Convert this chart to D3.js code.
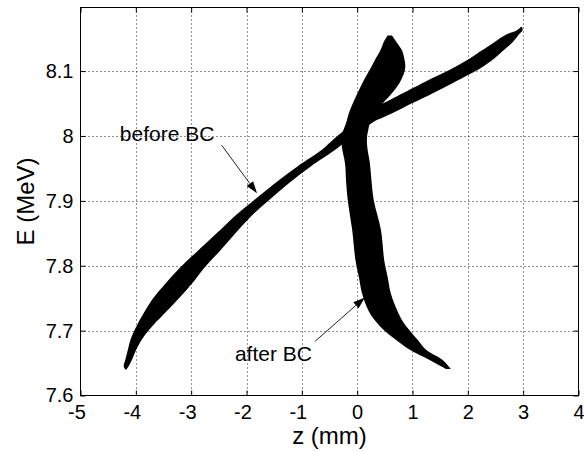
<!DOCTYPE html>
<html><head><meta charset="utf-8">
<script src="https://cdn.jsdelivr.net/npm/d3@7"></script>
<style>
body{margin:0;background:#fff;}
svg text{font-family:"Liberation Sans",Arial,Helvetica,sans-serif;fill:#000;}
</style>
</head><body>
<svg id="chart" width="584" height="451"></svg>
<script>
// ---------- data ----------
const xTicks = [-5, -4, -3, -2, -1, 0, 1, 2, 3, 4];
const xTickLabels = ["-5", "-4", "-3", "-2", "-1", "0", "1", "2", "3", "4"];
const yTicks = [7.6, 7.7, 7.8, 7.9, 8.0, 8.1];
const yTickLabels = ["7.6", "7.7", "7.8", "7.9", "8", "8.1"];

// "before BC" beam: energy and the z extent of the band at that energy
const beforeE      = [7.640, 7.645, 7.655, 7.67, 7.685, 7.696, 7.71, 7.722, 7.747, 7.773, 7.798, 7.824, 7.85, 7.876, 7.901, 7.927, 7.953, 7.978, 7.99, 8.0, 8.012, 8.022, 8.028, 8.036, 8.05, 8.0617, 8.0835, 8.1054, 8.12, 8.13, 8.145, 8.157, 8.163, 8.168];
const beforeZLeft  = [-4.19, -4.22, -4.19, -4.145, -4.10, -4.05, -3.97, -3.89, -3.71, -3.46, -3.19, -2.87, -2.54, -2.22, -1.865, -1.485, -1.08, -0.65, -0.49, -0.36, -0.195, -0.1, 0.005, 0.16, 0.46, 0.73, 1.23, 1.75, 2.05, 2.22, 2.485, 2.71, 2.89, 2.96];
const beforeZRight = [-4.17, -4.13, -4.07, -3.995, -3.90, -3.81, -3.67, -3.53, -3.25, -2.98, -2.75, -2.47, -2.20, -1.92, -1.595, -1.235, -0.84, -0.41, -0.23, -0.08, 0.135, 0.3, 0.455, 0.66, 0.98, 1.27, 1.77, 2.25, 2.49, 2.62, 2.815, 2.93, 2.99, 2.98];

// "after BC" beam
const afterE      = [7.641, 7.655, 7.67, 7.685, 7.70, 7.715, 7.73, 7.757, 7.783, 7.808, 7.855, 7.901, 7.93, 7.958, 7.985, 8.0, 8.009, 8.02, 8.035, 8.05, 8.065, 8.081, 8.095, 8.107, 8.12, 8.132, 8.145, 8.155];
const afterZLeft  = [1.6, 1.3, 0.96, 0.71, 0.49, 0.33, 0.21, 0.09, 0.03, -0.03, -0.09, -0.17, -0.2, -0.22, -0.28, -0.28, -0.25, -0.2, -0.15, -0.08, 0.0, 0.09, 0.18, 0.26, 0.34, 0.42, 0.48, 0.55];
const afterZRight = [1.69, 1.54, 1.25, 1.1, 0.95, 0.82, 0.73, 0.61, 0.55, 0.49, 0.43, 0.3, 0.26, 0.23, 0.18, 0.18, 0.2, 0.23, 0.33, 0.46, 0.62, 0.76, 0.84, 0.87, 0.85, 0.81, 0.71, 0.63];

// annotations (data coordinates)
const annotLabels = ["before BC", "after BC"];
const annotTextZ  = [-4.29, -2.21];
const annotTextE  = [7.9924, 7.6532];
const arrowTailZ  = [-2.45, -0.763];
const arrowTailE  = [7.9858, 7.6833];
const arrowHeadZ  = [-1.81, 0.141];
const arrowHeadE  = [7.9117, 7.7512];

// ---------- layout ----------
const svg = d3.select("#chart");
const x = d3.scaleLinear().domain([-5, 4]).range([80.5, 578.5]);
const y = d3.scaleLinear().domain([7.6, 8.198]).range([395.5, 7.5]);
const X0 = x.range()[0], X1 = x.range()[1], Y0 = y.range()[0], Y1 = y.range()[1];

// grid
const grid = svg.append("g").attr("stroke", "#222").attr("stroke-width", 1).attr("stroke-dasharray", "1,3");
grid.selectAll(".gx").data(xTicks.slice(1, -1)).join("line")
  .attr("x1", d => Math.round(x(d)) + 0.5).attr("x2", d => Math.round(x(d)) + 0.5)
  .attr("y1", Y1).attr("y2", Y0);
grid.selectAll(".gy").data(yTicks.slice(1)).join("line")
  .attr("y1", d => Math.round(y(d)) + 0.5).attr("y2", d => Math.round(y(d)) + 0.5)
  .attr("x1", X0).attr("x2", X1);

// beams
const beforeData = beforeE.map((e, i) => ({e, l: beforeZLeft[i], r: beforeZRight[i]}));
const afterData  = afterE.map((e, i) => ({e, l: afterZLeft[i], r: afterZRight[i]}));
const band = d3.area().y(d => y(d.e)).x0(d => x(d.l)).x1(d => x(d.r)).curve(d3.curveCatmullRom.alpha(0.5));
svg.append("path").datum(beforeData).attr("d", band).attr("fill", "#000");
svg.append("path").datum(afterData).attr("d", band).attr("fill", "#000");

// box
svg.append("rect").attr("x", X0).attr("y", Y1).attr("width", X1 - X0).attr("height", Y0 - Y1)
  .attr("fill", "none").attr("stroke", "#000").attr("stroke-width", 1);

// axes
const fmtX = d => xTickLabels[xTicks.indexOf(d)];
const fmtY = d => yTickLabels[yTicks.indexOf(d)];
const ax = svg.append("g").attr("transform", `translate(0,${Y0})`)
  .call(d3.axisBottom(x).tickValues(xTicks).tickFormat(fmtX).tickSize(-5).tickSizeOuter(0).tickPadding(9));
const ay = svg.append("g").attr("transform", `translate(${X0},0)`)
  .call(d3.axisLeft(y).tickValues(yTicks).tickFormat(fmtY).tickSize(-5).tickSizeOuter(0).tickPadding(7));
const axT = svg.append("g").attr("transform", `translate(0,${Y1})`)
  .call(d3.axisTop(x).tickValues(xTicks).tickFormat("").tickSize(-5).tickSizeOuter(0));
const ayR = svg.append("g").attr("transform", `translate(${X1},0)`)
  .call(d3.axisRight(y).tickValues(yTicks).tickFormat("").tickSize(-5).tickSizeOuter(0));
[ax, ay, axT, ayR].forEach(g => { g.select(".domain").remove(); g.selectAll("line").attr("stroke", "#000"); });
ax.selectAll("text").attr("font-size", 20).attr("fill", "#000").attr("dx", d => d < 0 ? -4 : 0);
ay.selectAll("text").attr("font-size", 20).attr("fill", "#000");
ax.attr("font-family", null); ay.attr("font-family", null);

// axis labels
svg.append("text").attr("x", (X0 + X1) / 2).attr("y", 443.5).attr("text-anchor", "middle")
  .attr("font-size", 24).text("z (mm)");
svg.append("text").attr("transform", `translate(34,${(Y0 + Y1) / 2}) rotate(-90)`).attr("text-anchor", "middle")
  .attr("font-size", 24).text("E (MeV)");

// annotations
annotLabels.forEach((t, i) => {
  svg.append("text").attr("x", x(annotTextZ[i])).attr("y", y(annotTextE[i])).attr("font-size", 21).text(t);
  const x1 = x(arrowTailZ[i]), y1 = y(arrowTailE[i]), x2 = x(arrowHeadZ[i]), y2 = y(arrowHeadE[i]);
  const ang = Math.atan2(y2 - y1, x2 - x1), L = 12, W = 4;
  const bx = x2 - L * Math.cos(ang), by = y2 - L * Math.sin(ang);
  svg.append("line").attr("x1", x1).attr("y1", y1).attr("x2", bx).attr("y2", by)
    .attr("stroke", "#222").attr("stroke-width", 1);
  const pts = [[x2, y2], [bx + W * Math.sin(ang), by - W * Math.cos(ang)], [bx - W * Math.sin(ang), by + W * Math.cos(ang)]];
  svg.append("polygon").attr("points", pts.map(p => p.join(",")).join(" ")).attr("fill", "#000");
});
</script>
</body></html>
